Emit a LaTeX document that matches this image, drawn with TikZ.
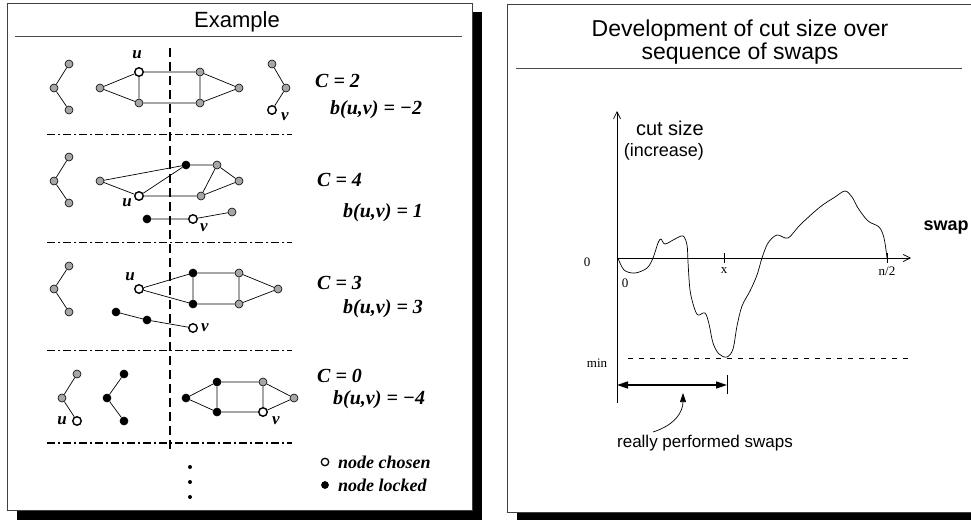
\documentclass[tikz,border=0pt]{standalone}
\usepackage{fontspec}
\setmainfont{Liberation Serif}
\setsansfont{Liberation Sans}
\usetikzlibrary{arrows.meta}
\begin{document}
\begin{tikzpicture}[x=1pt,y=-1pt,
  gn/.style={circle,draw,fill=gray!70,inner sep=0pt,minimum size=8pt,line width=0.6pt},
  wn/.style={circle,draw,fill=white,inner sep=0pt,minimum size=8.5pt,line width=1.4pt},
  bn/.style={circle,draw,fill=black,inner sep=0pt,minimum size=8pt,line width=0.6pt},
  ed/.style={line width=0.7pt},
  lab/.style={font=\fontsize{17}{17}\selectfont\bfseries\itshape,inner sep=0pt},
  eq/.style={font=\fontsize{20}{20}\selectfont\bfseries\itshape,anchor=west,inner sep=0pt},
  leg/.style={font=\fontsize{18}{18}\selectfont\bfseries\itshape,anchor=west,inner sep=0pt},
  sep/.style={line width=0.8pt,dash pattern=on 8pt off 3pt on 2pt off 3pt},
  frame/.style={draw=black!75,line width=0.9pt,fill=white},
  ttl/.style={font=\fontsize{22}{21}\selectfont\sffamily,align=center,inner sep=0pt},
  ax/.style={line width=0.7pt},
  num/.style={font=\fontsize{13}{13}\selectfont,inner sep=0pt},
  dot/.style={circle,fill=black,inner sep=0pt,minimum size=4pt}
]
\clip (0,0) rectangle (971,519);
% ---------- frames with shadows ----------
\fill[black] (17,12) rectangle (482,530);
\draw[frame] (7,3) rectangle (472,510);
\fill[black] (517,14) rectangle (1000,530);
\draw[frame] (507,4) rectangle (995,512);

% ---------- left panel ----------
\node[ttl] (t1) at (237,22) {Example};
\coordinate (l1a) at (15,36); \coordinate (l1b) at (462,36);
\draw[black!70,line width=0.9pt] (l1a) -- (l1b);

% vertical cut
\coordinate (cutA) at (170,48); \coordinate (cutB) at (170,453);
\draw[line width=1.3pt,dash pattern=on 9pt off 5pt] (cutA) -- (cutB);

% separators
\foreach \yy/\w in {134/0.8,242/0.8,350/0.8,443/1.5}{
  \coordinate (sa) at (47,\yy); \coordinate (sb) at (292,\yy);
  \draw[sep,line width=\w pt] (sa) -- (sb);
}

% Row 1
\node[gn] (a1) at (69,64) {};
\node[gn] (a2) at (54,88) {};
\node[gn] (a3) at (69,110) {};
\draw[ed] (a1) -- (a2) -- (a3);
\node[gn] (g1) at (100,88) {};
\node[wn] (u1) at (139,72) {};
\node[gn] (g2) at (139,103) {};
\node[gn] (g3) at (200,72) {};
\node[gn] (g4) at (200,103) {};
\node[gn] (g5) at (239,88) {};
\draw[ed] (g1) -- (u1) (g1) -- (g2) (u1) -- (g2) (u1) -- (g3) (g2) -- (g4)
  (g3) -- (g4) (g3) -- (g5) (g4) -- (g5);
\node[gn] (c1) at (272,64) {};
\node[gn] (c2) at (286,88) {};
\node[wn] (v1) at (272,110) {};
\draw[ed] (c1) -- (c2) -- (v1);
\node[lab] (lu1) at (137,55) {u};
\node[lab] (lv1) at (285,117) {v};
\node[eq] (C1) at (315,81) {C = 2};
\node[eq] (B1) at (330,110) {b(u,v) = −2};

% Row 2
\node[gn] (a4) at (69,157) {};
\node[gn] (a5) at (54,181) {};
\node[gn] (a6) at (69,203) {};
\draw[ed] (a4) -- (a5) -- (a6);
\node[gn] (h1) at (100,181) {};
\node[wn] (u2) at (139,196) {};
\node[bn] (k1) at (186,165) {};
\node[gn] (h2) at (217,165) {};
\node[gn] (h3) at (239,181) {};
\node[gn] (h4) at (201,196) {};
\draw[ed] (h1) -- (k1) (h1) -- (u2) (u2) -- (k1) (u2) -- (h4) (k1) -- (h2)
  (h2) -- (h3) (h2) -- (h4) (h4) -- (h3);
\node[bn] (k2) at (147,219) {};
\node[wn] (v2) at (193,219) {};
\node[gn] (h5) at (232,212) {};
\draw[ed] (k2) -- (v2) -- (h5);
\node[lab] (lu2) at (127,203) {u};
\node[lab] (lv2) at (204,228) {v};
\node[eq] (C2) at (317,180) {C = 4};
\node[eq] (B2) at (343,213) {b(u,v) = 1};

% Row 3
\node[gn] (a7) at (69,266) {};
\node[gn] (a8) at (54,289) {};
\node[gn] (a9) at (69,312) {};
\draw[ed] (a7) -- (a8) -- (a9);
\node[wn] (u3) at (139,289) {};
\node[bn] (k3) at (193,273) {};
\node[bn] (k4) at (193,304) {};
\node[gn] (m1) at (239,273) {};
\node[gn] (m2) at (239,304) {};
\node[gn] (m3) at (278,289) {};
\draw[ed] (u3) -- (k3) (u3) -- (k4) (k3) -- (k4) (k3) -- (m1) (k4) -- (m2)
  (m1) -- (m2) (m1) -- (m3) (m2) -- (m3);
\node[bn] (k5) at (116,312) {};
\node[bn] (k6) at (147,320) {};
\node[wn] (v3) at (193,328) {};
\draw[ed] (k5) -- (k6) -- (v3);
\node[lab] (lu3) at (130,277) {u};
\node[lab] (lv3) at (205,328) {v};
\node[eq] (C3) at (317,283) {C = 3};
\node[eq] (B3) at (343,309) {b(u,v) = 3};

% Row 4
\node[gn] (p1) at (77,374) {};
\node[gn] (p2) at (62,398) {};
\node[wn] (u4) at (77,421) {};
\draw[ed] (p1) -- (p2) -- (u4);
\node[bn] (q1) at (124,374) {};
\node[bn] (q2) at (107,398) {};
\node[bn] (q3) at (124,421) {};
\draw[ed] (q1) -- (q2) -- (q3);
\node[bn] (r1) at (186,398) {};
\node[bn] (r2) at (217,382) {};
\node[bn] (r3) at (217,412) {};
\node[gn] (r4) at (263,382) {};
\node[wn] (v4) at (263,412) {};
\node[gn] (r5) at (294,398) {};
\draw[ed] (r1) -- (r2) (r1) -- (r3) (r2) -- (r3) (r2) -- (r4) (r3) -- (v4)
  (r4) -- (v4) (r4) -- (r5) (v4) -- (r5);
\node[lab] (lu4) at (62,421) {u};
\node[lab] (lv4) at (276,421) {v};
\node[eq] (C4) at (317,376) {C = 0};
\node[eq] (B4) at (333,400) {b(u,v) = −4};

% dots and legend
\node[dot] (d1) at (190,467) {};
\node[dot] (d2) at (190,482) {};
\node[dot] (d3) at (190,497) {};
\node[wn,minimum size=7.5pt,line width=1.3pt] (lg1) at (325,462) {};
\node[leg] (lt1) at (338,462) {node chosen};
\node[bn,minimum size=7pt] (lg2) at (325,485) {};
\node[leg] (lt2) at (338,485) {node locked};

% ---------- right panel ----------
\node[ttl,font=\fontsize{23}{21}\selectfont\sffamily] (t2) at (740,42) {Development of cut size over\\sequence of swaps};
\coordinate (l2a) at (516,68); \coordinate (l2b) at (962,68);
\draw[black!70,line width=0.9pt] (l2a) -- (l2b);

\coordinate (O) at (617,258);
\coordinate (ybot) at (617,403);
\coordinate (ytop) at (617,111);
\coordinate (xend) at (911,258);
\draw[ax,-{Straight Barb[length=7pt,width=7pt]}] (ybot) -- (ytop);
\draw[ax,-{Straight Barb[length=7pt,width=7pt]}] (O) -- (xend);
\coordinate (tx1) at (724,253); \coordinate (tx2) at (724,263);
\draw[ax] (tx1) -- (tx2);
\coordinate (tn1) at (887,253); \coordinate (tn2) at (887,263);
\draw[ax] (tn1) -- (tn2);

\node[font=\fontsize{20}{20}\selectfont\sffamily,anchor=east,inner sep=0pt] (cs) at (704,128) {cut size};
\node[font=\fontsize{18}{18}\selectfont\sffamily,anchor=east,inner sep=0pt] (inc) at (704,152) {(increase)};
\node[font=\fontsize{18}{18}\selectfont\sffamily\bfseries,inner sep=0pt] (sw) at (946,228) {swap};

\node[num] (n0a) at (587,262) {0};
\node[num] (n0b) at (625,283) {0};
\node[num] (nx) at (724,271) {x};
\node[num] (nn) at (887,271) {n/2};
\node[num] (nmin) at (597,363) {min};

% the curve
\draw[line width=0.7pt] plot[smooth,tension=0.55] coordinates {
 (618,258) (624,270) (635,273) (647,268) (653,258) (658,243) (661,239)
 (665,244) (675,239) (683,236) (687,245) (688,262) (690,290) (694,307)
 (698,315) (705,313) (709,324) (713,343) (719,354) (727,357) (733,349)
 (737,326) (742,306) (750,291) (757,275) (762,258) (768,243) (777,235)
 (788,238) (800,225) (820,207) (835,197) (845,191) (852,197) (858,208)
 (868,221) (879,227) (884,238) (887,258)};

% min line
\coordinate (mA) at (628,358); \coordinate (mB) at (912,358);
\draw[line width=0.6pt,dash pattern=on 5pt off 6pt] (mA) -- (mB);

% performed swaps
\coordinate (pA) at (617,385); \coordinate (pB) at (727,385);
\coordinate (pt1) at (727,375); \coordinate (pt2) at (727,394);
\draw[ax] (pt1) -- (pt2);
\draw[line width=1.6pt,{Triangle[length=11pt,width=7pt]}-{Triangle[length=11pt,width=7pt]}] (pA) -- (pB);

\node[font=\fontsize{17}{17}\selectfont\sffamily,inner sep=0pt] (rps) at (705,443) {really performed swaps};
\coordinate (cA) at (653,432);
\coordinate (cB) at (683,393);
\draw[line width=0.7pt,-{Triangle[length=9pt,width=6pt]}] (cA) .. controls (675,425) and (683,412) .. (cB);
\end{tikzpicture}
\end{document}
